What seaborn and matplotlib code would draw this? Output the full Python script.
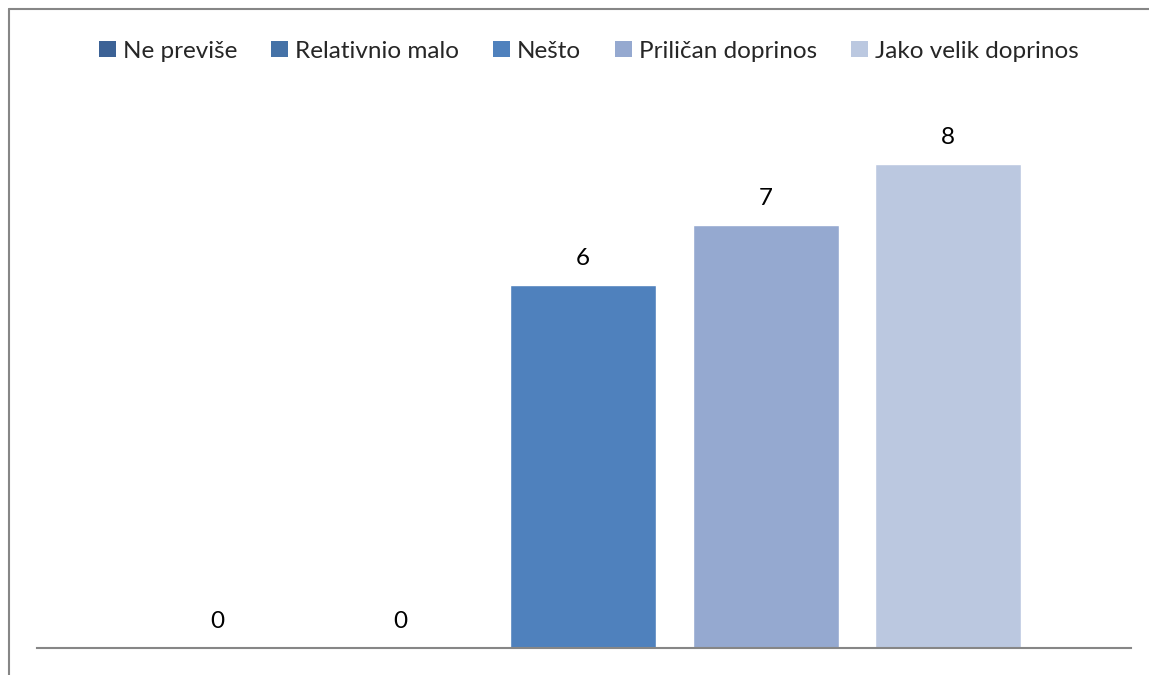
import matplotlib
matplotlib.use("Agg")
import matplotlib.pyplot as plt
import seaborn as sns
import pandas as pd
from matplotlib.patches import Patch
from matplotlib.lines import Line2D

categories = ["Ne previše", "Relativnio malo", "Nešto", "Priličan doprinos", "Jako velik doprinos"]
values = [0, 0, 6, 7, 8]
colors = ["#3C6296", "#4572A7", "#4F81BD", "#95A9D0", "#BBC8E0"]

sns.set_theme(style="white")
plt.rcParams["font.family"] = ["Lato", "DejaVu Sans"]

df = pd.DataFrame({"kategorija": categories, "broj": values})

fig = plt.figure(figsize=(11.49, 6.75), dpi=100)
ax = fig.add_axes([37 / 1149, 27 / 675, 1094 / 1149, 605 / 675])
sns.barplot(data=df, x="kategorija", y="broj", hue="kategorija",
            palette=colors, width=0.8, legend=False, ax=ax, saturation=1)

ax.set_xlim(-0.99, 5.0)
ax.set_ylim(0, 10)
ax.set_xlabel(""); ax.set_ylabel("")
ax.set_xticks([]); ax.set_yticks([])
for s in ["left", "right", "top"]:
    ax.spines[s].set_visible(False)
ax.spines["bottom"].set_color("#868686")
ax.spines["bottom"].set_linewidth(1.5)

for i, v in enumerate(values):
    ax.annotate(str(v), (i, v), xytext=(0, 19), textcoords="offset points",
                ha="center", va="center", fontsize=17.5, color="black")

handles = [Patch(facecolor=c, edgecolor="none") for c in colors]
fig.legend(handles, categories, loc="center", bbox_to_anchor=(589 / 1149, 1 - 51 / 675),
           ncol=5, frameon=False, fontsize=17.5, handlelength=0.68, handleheight=0.68,
           handletextpad=0.3, columnspacing=1.4)

# chart border (cropped at right/bottom in the original)
fig.add_artist(Line2D([8.5 / 1149, 8.5 / 1149], [0, 1 - 9 / 675], color="#868686", lw=1.5))
fig.add_artist(Line2D([8.5 / 1149, 1], [1 - 9 / 675, 1 - 9 / 675], color="#868686", lw=1.5))

plt.savefig("out.png", dpi=100)
plt.close()
